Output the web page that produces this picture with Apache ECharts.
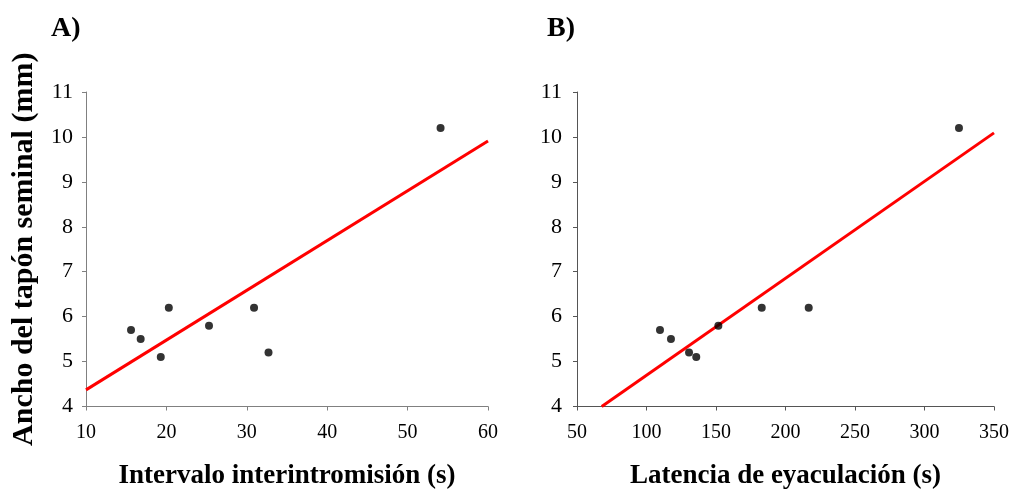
<!DOCTYPE html>
<html>
<head>
<meta charset="utf-8">
<script src="https://cdn.jsdelivr.net/npm/echarts@6/dist/echarts.min.js"></script>
<style>
html,body{margin:0;padding:0;background:#fff;}
#chart{width:1014px;height:491px;}
</style>
</head>
<body>
<div id="chart"></div>
<script>
// Panel A: Intervalo interintromisión (s) vs Ancho del tapón seminal (mm)
var xA = [15.6, 16.8, 19.3, 20.3, 25.3, 30.9, 32.7, 54.1];
var yA = [5.7, 5.5, 5.1, 6.2, 5.8, 6.2, 5.2, 10.2];
var fitAx = [10, 60];
var fitAy = [4.37, 9.91];
// Panel B: Latencia de eyaculación (s) vs Ancho del tapón seminal (mm)
var xB = [109.7, 117.6, 130.6, 135.8, 151.7, 182.9, 216.7, 324.8];
var yB = [5.7, 5.5, 5.2, 5.1, 5.8, 6.2, 6.2, 10.2];
var fitBx = [67.8, 350];
var fitBy = [4.0, 10.09];

var panelTitles = ['A)', 'B)'];
var xNames = ['Intervalo interintromisión (s)', 'Latencia de eyaculación (s)'];
var yName = 'Ancho del tapón seminal (mm)';

function pairs(xs, ys){ return xs.map(function(x,i){ return [x, ys[i]]; }); }

var FONT = '"Liberation Serif", "Times New Roman", serif';
var chart = echarts.init(document.getElementById('chart'));

function xAxisCfg(idx, min, max, interval, color){
  return {
    type:'value', gridIndex:idx, min:min, max:max, interval:interval,
    name: xNames[idx], nameLocation:'middle', nameGap:56,
    nameTextStyle:{fontFamily:FONT, fontSize:27, fontWeight:'bold', color:'#000'},
    axisLine:{show:true, onZero:false, lineStyle:{color:color, width:1}},
    axisTick:{show:true, length:4, lineStyle:{color:color}},
    axisLabel:{fontFamily:FONT, fontSize:20, color:'#000', margin:16},
    splitLine:{show:false}
  };
}
function yAxisCfg(idx, color, margin, withName){
  var c = {
    type:'value', gridIndex:idx, min:4, max:11, interval:1,
    axisLine:{show:true, onZero:false, lineStyle:{color:color, width:1}},
    axisTick:{show:true, length:4, lineStyle:{color:color}},
    axisLabel:{fontFamily:FONT, fontSize:22, color:'#000', margin:margin},
    splitLine:{show:false}
  };
  if(withName){
    c.name = yName; c.nameLocation='middle'; c.nameGap=47;
    c.nameTextStyle={fontFamily:FONT, fontSize:30, fontWeight:'bold', color:'#000'};
  }
  return c;
}

chart.setOption({
  backgroundColor:'#fff',
  animation:false,
  title:[
    {text:panelTitles[0], left:46, top:10, textStyle:{fontFamily:FONT, fontSize:28, fontWeight:'bold', color:'#000'}},
    {text:panelTitles[1], left:542, top:10, textStyle:{fontFamily:FONT, fontSize:28, fontWeight:'bold', color:'#000'}}
  ],
  grid:[
    {left:86, top:92, width:402, height:314.5, containLabel:false, outerBoundsMode:'none'},
    {left:577, top:92, width:417, height:314.5, containLabel:false, outerBoundsMode:'none'}
  ],
  xAxis:[
    xAxisCfg(0, 10, 60, 10, '#808080'),
    xAxisCfg(1, 50, 350, 50, '#555')
  ],
  yAxis:[
    yAxisCfg(0, '#808080', 13, true),
    yAxisCfg(1, '#555', 15, false)
  ],
  series:[
    {type:'line', xAxisIndex:0, yAxisIndex:0, data:pairs(fitAx, fitAy), showSymbol:false, symbol:'none',
     lineStyle:{color:'#ff0000', width:3}, z:2},
    {type:'scatter', xAxisIndex:0, yAxisIndex:0, data:pairs(xA, yA), symbol:'circle', symbolSize:8,
     itemStyle:{color:'#000'}, z:3},
    {type:'line', xAxisIndex:1, yAxisIndex:1, data:pairs(fitBx, fitBy), showSymbol:false, symbol:'none',
     lineStyle:{color:'#ff0000', width:3}, z:2},
    {type:'scatter', xAxisIndex:1, yAxisIndex:1, data:pairs(xB, yB), symbol:'circle', symbolSize:8,
     itemStyle:{color:'#000'}, z:3}
  ]
});
</script>
</body>
</html>
